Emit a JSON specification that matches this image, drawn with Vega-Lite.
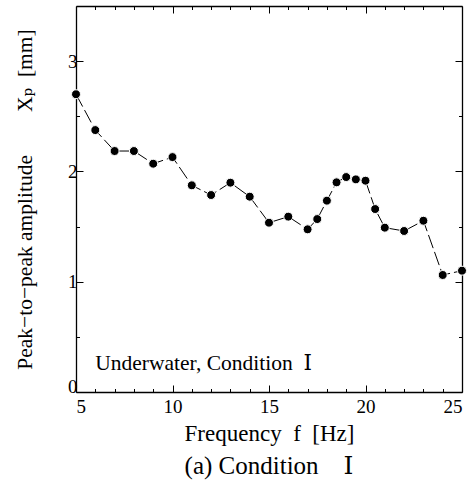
{
  "$schema": "https://vega.github.io/schema/vega-lite/v6.json",
  "autosize": {"type": "none"},
  "padding": {"left": 76, "top": 6, "right": 13, "bottom": 96},
  "width": 386,
  "height": 386,
  "background": "white",
  "config": {
    "view": {"stroke": null},
    "font": "Liberation Serif, DejaVu Serif, serif",
    "axis": {"labelFont": "Liberation Serif, DejaVu Serif, serif", "titleFont": "Liberation Serif, DejaVu Serif, serif", "domainColor": "black", "domainWidth": 1.3, "tickColor": "black", "tickWidth": 1, "labelColor": "black", "titleColor": "black", "grid": false, "titleFontWeight": "normal"}
  },
  "title": {"text": "(a) Condition\u2003Ⅰ", "orient": "bottom", "font": "Liberation Serif, DejaVu Serif, serif", "fontSize": 25, "fontWeight": "normal", "color": "black", "offset": 9},
  "data": {"values": [
    {"f": 5, "xp": 2.70}, {"f": 6, "xp": 2.375}, {"f": 7, "xp": 2.185}, {"f": 8, "xp": 2.185},
    {"f": 9, "xp": 2.07}, {"f": 10, "xp": 2.13}, {"f": 11, "xp": 1.874}, {"f": 12, "xp": 1.786},
    {"f": 13, "xp": 1.898}, {"f": 14, "xp": 1.771}, {"f": 15, "xp": 1.535}, {"f": 16, "xp": 1.59},
    {"f": 17, "xp": 1.475}, {"f": 17.5, "xp": 1.568}, {"f": 18, "xp": 1.735}, {"f": 18.5, "xp": 1.901},
    {"f": 19, "xp": 1.949}, {"f": 19.5, "xp": 1.928}, {"f": 20, "xp": 1.916}, {"f": 20.5, "xp": 1.659},
    {"f": 21, "xp": 1.49}, {"f": 22, "xp": 1.46}, {"f": 23, "xp": 1.553}, {"f": 24, "xp": 1.061},
    {"f": 25, "xp": 1.10}
  ]},
  "resolve": {"axis": {"x": "independent", "y": "independent"}},
  "layer": [
    {
      "mark": {"type": "line", "color": "black", "strokeWidth": 1, "strokeDash": [14, 4]},
      "encoding": {
        "x": {"field": "f", "type": "quantitative", "scale": {"domain": [5, 25], "nice": false},
          "axis": {"orient": "bottom", "title": "Frequency\u2002f\u2002[Hz]", "titleFontSize": 23, "titlePadding": 6, "labelFontSize": 19, "labelPadding": 12,
            "values": [5, 10, 15, 20, 25], "format": "d", "tickSize": -7}},
        "y": {"field": "xp", "type": "quantitative", "scale": {"domain": [0, 3.5], "nice": false},
          "axis": {"orient": "left", "title": "Peak−to−peak amplitude\u2003\u2003Xₚ\u2002[mm]", "titleFontSize": 21.5, "titlePadding": 31, "labelFontSize": 19, "labelPadding": 6,
            "labelBaseline": {"condition": {"test": "datum.value === 0", "value": "alphabetic"}, "value": "middle"},
            "values": [0, 1, 2, 3], "format": "d", "tickSize": -7}}
      }
    },
    {
      "mark": {"type": "point", "opacity": 0},
      "encoding": {
        "x": {"field": "f", "type": "quantitative",
          "axis": {"orient": "bottom", "title": null, "labelExpr": "''", "domain": false,
            "values": [6, 7, 8, 9, 11, 12, 13, 14, 16, 17, 18, 19, 21, 22, 23, 24], "tickSize": -3.5}},
        "y": {"field": "xp", "type": "quantitative",
          "axis": {"orient": "left", "title": null, "labelExpr": "''", "domain": false,
            "values": [0.5, 1.5, 2.5], "tickSize": -3.5}}
      }
    },
    {
      "mark": {"type": "point", "opacity": 0},
      "encoding": {
        "x": {"field": "f", "type": "quantitative",
          "axis": {"orient": "top", "title": null, "labelExpr": "''",
            "values": [5, 10, 15, 20, 25], "tickSize": -7}},
        "y": {"field": "xp", "type": "quantitative",
          "axis": {"orient": "right", "title": null, "labelExpr": "''",
            "values": [0, 1, 2, 3], "tickSize": -7}}
      }
    },
    {
      "mark": {"type": "point", "opacity": 0},
      "encoding": {
        "x": {"field": "f", "type": "quantitative",
          "axis": {"orient": "top", "title": null, "labelExpr": "''", "domain": false,
            "values": [6, 7, 8, 9, 11, 12, 13, 14, 16, 17, 18, 19, 21, 22, 23, 24], "tickSize": -3.5}},
        "y": {"field": "xp", "type": "quantitative",
          "axis": {"orient": "right", "title": null, "labelExpr": "''", "domain": false,
            "values": [0.5, 1.5, 2.5], "tickSize": -3.5}}
      }
    },
    {
      "mark": {"type": "point", "filled": true, "color": "black", "size": 80, "opacity": 1, "stroke": "white", "strokeWidth": 1},
      "encoding": {
        "x": {"field": "f", "type": "quantitative", "axis": null},
        "y": {"field": "xp", "type": "quantitative", "axis": null}
      }
    },
    {
      "data": {"values": [{"f": 6, "xp": 0.2, "label": "Underwater, Condition\u2002Ⅰ"}]},
      "mark": {"type": "text", "align": "left", "baseline": "alphabetic", "fontSize": 21.5, "font": "Liberation Serif, DejaVu Serif, serif", "color": "black"},
      "encoding": {
        "x": {"field": "f", "type": "quantitative", "axis": null},
        "y": {"field": "xp", "type": "quantitative", "axis": null},
        "text": {"field": "label"}
      }
    }
  ]
}
